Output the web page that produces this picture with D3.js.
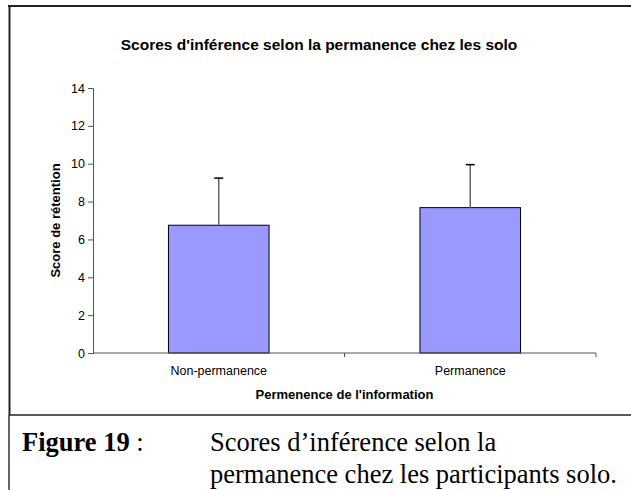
<!DOCTYPE html>
<html>
<head>
<meta charset="utf-8">
<script src="https://cdn.jsdelivr.net/npm/d3@7"></script>
<style>
  html, body { margin: 0; padding: 0; background: #fff; }
  svg { display: block; }
</style>
</head>
<body>
<svg id="chart" width="631" height="490"></svg>
<script>
// Mean inference scores per condition, with standard deviation
const categories = ["Non-permanence", "Permanence"];
const means = [6.75, 7.68];
const errors = [2.49, 2.27];
const yTicks = [0, 2, 4, 6, 8, 10, 12, 14];

const chartTitle = "Scores d'inférence selon la permanence chez les solo";
const yTitle = "Score de rétention";
const xTitle = "Permenence de l'information";

const svg = d3.select("#chart");
const sans = "Arial, 'Liberation Sans', sans-serif";
const serif = "'Times New Roman', 'Liberation Serif', serif";

// Frame around the chart and caption
svg.append("line").attr("x1", 8).attr("x2", 631).attr("y1", 6).attr("y2", 6)
  .attr("stroke", "#222").attr("stroke-width", 2);
svg.append("line").attr("x1", 9.5).attr("x2", 9.5).attr("y1", 5).attr("y2", 415)
  .attr("stroke", "#222").attr("stroke-width", 2);
svg.append("line").attr("x1", 9).attr("x2", 9).attr("y1", 415).attr("y2", 490)
  .attr("stroke", "#333").attr("stroke-width", 1.5);
svg.append("line").attr("x1", 9).attr("x2", 631).attr("y1", 415).attr("y2", 415)
  .attr("stroke", "#222").attr("stroke-width", 1.5);

// Plot area
const plotL = 93, plotR = 596, plotT = 88, plotB = 353;

const x = d3.scaleBand().domain(categories).range([plotL, plotR]).padding(0);
const y = d3.scaleLinear().domain([0, 14]).range([plotB, plotT]);
const barW = x.bandwidth() * 0.4;

// Y axis
const yAxis = d3.axisLeft(y).tickValues(yTicks).tickSize(5).tickPadding(3);
const gy = svg.append("g").attr("transform", `translate(${plotL},0)`).call(yAxis);
gy.select(".domain").attr("stroke", "#555");
gy.selectAll(".tick line").attr("stroke", "#555");
gy.selectAll(".tick text").attr("font-family", sans).attr("font-size", 12.5).attr("fill", "#000");

// Bars
svg.append("g").selectAll("rect").data(categories).join("rect")
  .attr("x", (d) => x(d) + (x.bandwidth() - barW) / 2)
  .attr("y", (d, i) => y(means[i]))
  .attr("width", barW)
  .attr("height", (d, i) => y(0) - y(means[i]))
  .attr("fill", "#9999FF")
  .attr("stroke", "#000")
  .attr("stroke-width", 1);

// Error bars (upper half only)
const eb = svg.append("g");
categories.forEach((c, i) => {
  const cx = x(c) + x.bandwidth() / 2;
  eb.append("line").attr("x1", cx).attr("x2", cx)
    .attr("y1", y(means[i])).attr("y2", y(means[i] + errors[i]))
    .attr("stroke", "#666").attr("stroke-width", 1.5);
  eb.append("line").attr("x1", cx - 4.5).attr("x2", cx + 4.5)
    .attr("y1", y(means[i] + errors[i])).attr("y2", y(means[i] + errors[i]))
    .attr("stroke", "#000").attr("stroke-width", 1.5);
});

// X axis with category separators
svg.append("line").attr("x1", plotL).attr("x2", plotR).attr("y1", plotB).attr("y2", plotB)
  .attr("stroke", "#555").attr("stroke-width", 1);
const sepX = [plotL + x.bandwidth(), plotR];
svg.append("g").selectAll("line").data(sepX).join("line")
  .attr("x1", (d) => d).attr("x2", (d) => d)
  .attr("y1", plotB).attr("y2", plotB + 4)
  .attr("stroke", "#555");

svg.append("g").selectAll("text").data(categories).join("text")
  .attr("x", (d) => x(d) + x.bandwidth() / 2)
  .attr("y", 375)
  .attr("text-anchor", "middle")
  .attr("font-family", sans).attr("font-size", 12.5)
  .text((d) => d);

// Titles
svg.append("text").attr("x", 319).attr("y", 50).attr("text-anchor", "middle")
  .attr("font-family", sans).attr("font-size", 15.5).attr("font-weight", "bold")
  .text(chartTitle);

svg.append("text").attr("x", (plotL + plotR) / 2).attr("y", 399).attr("text-anchor", "middle")
  .attr("font-family", sans).attr("font-size", 13).attr("font-weight", "bold")
  .text(xTitle);

svg.append("text")
  .attr("transform", `translate(60,${(plotT + plotB) / 2}) rotate(-90)`)
  .attr("text-anchor", "middle")
  .attr("font-family", sans).attr("font-size", 13).attr("font-weight", "bold")
  .text(yTitle);

// Caption below the chart
const cap = svg.append("text").attr("x", 22).attr("y", 451)
  .attr("font-family", serif).attr("font-size", 26.5).attr("fill", "#000");
cap.append("tspan").attr("font-weight", "bold").text("Figure 19");
cap.append("tspan").text(" :");

svg.append("text").attr("x", 210).attr("y", 451)
  .attr("font-family", serif).attr("font-size", 26.5)
  .text("Scores d’inférence selon la");
svg.append("text").attr("x", 210).attr("y", 483)
  .attr("font-family", serif).attr("font-size", 26.5)
  .text("permanence chez les participants solo.");
</script>
</body>
</html>
